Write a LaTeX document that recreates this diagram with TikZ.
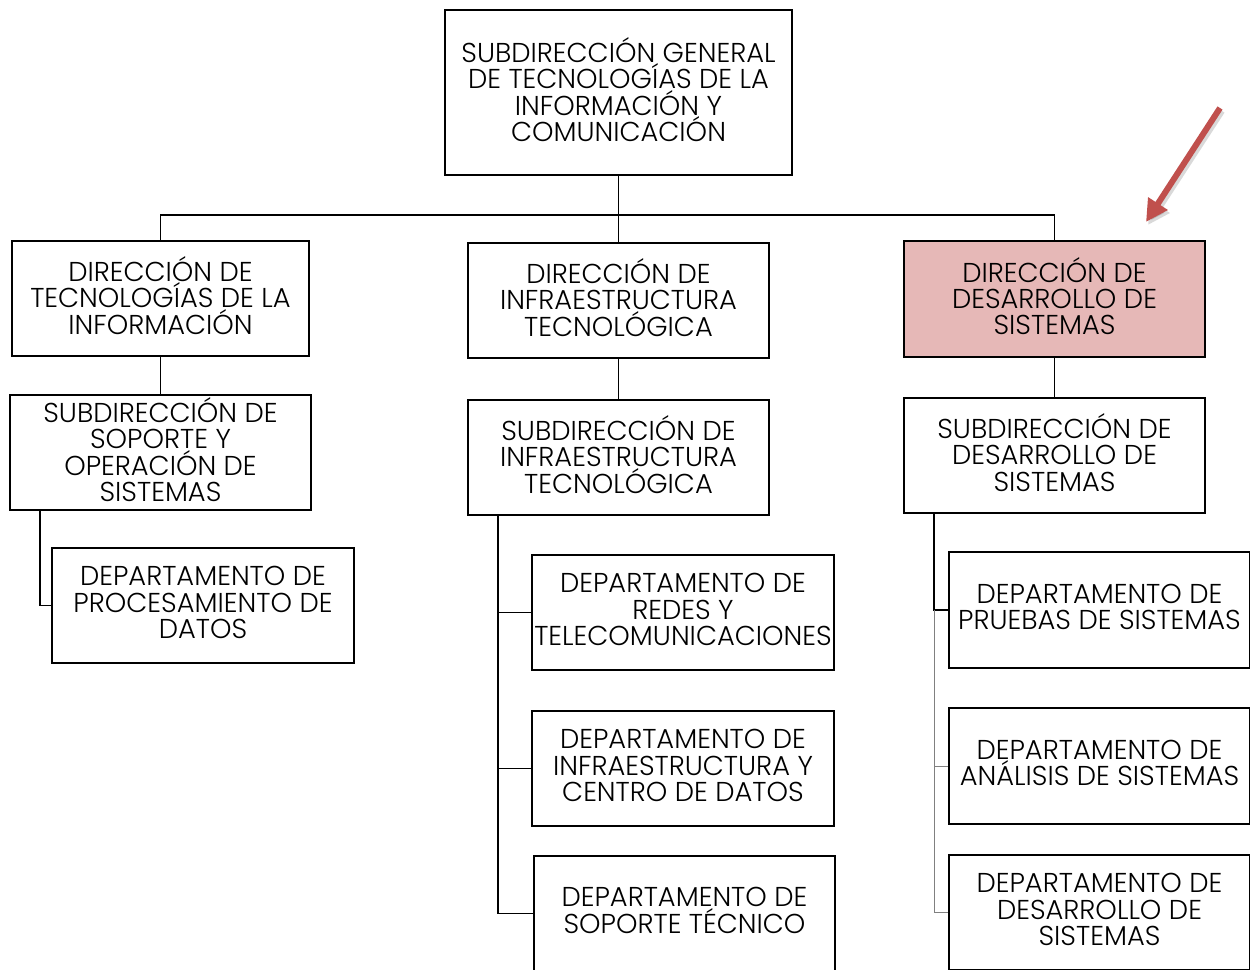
\documentclass[tikz,border=0pt]{standalone}
\usepackage{fontspec}
\setmainfont{Poppins}[UprightFont=* Light]
\usetikzlibrary{arrows.meta}
\definecolor{pinkfill}{HTML}{E6B8B7}
\definecolor{arrowred}{HTML}{C0504D}
\tikzset{
  box/.style={draw, line width=1.6pt, inner sep=0pt,
    minimum width=301pt, minimum height=115pt},
  lbl/.style={inner sep=0pt, align=center, yshift=3pt,
    font=\fontsize{27.3}{26.3}\selectfont},
  txt/.style={label={[lbl]center:#1}},
  conn/.style={line width=1.8pt},
  thin/.style={line width=1pt, gray}
}
\begin{document}
\begin{tikzpicture}[x=1pt,y=-1pt]
\useasboundingbox (0,0) rectangle (1250,969);
\clip (0,0) rectangle (1250,969);
\fill[white] (0,0) rectangle (1250,969);
% nodes
\node[box, minimum width=347pt, minimum height=165pt,
  txt={SUBDIRECCIÓN GENERAL\\DE TECNOLOGÍAS DE LA\\INFORMACIÓN Y\\COMUNICACIÓN}] (top) at (618.5,92.5) {};
\node[box, minimum width=297pt, txt={DIRECCIÓN DE\\TECNOLOGÍAS DE LA\\INFORMACIÓN}] (d1) at (160.5,298.5) {};
\node[box, txt={DIRECCIÓN DE\\INFRAESTRUCTURA\\TECNOLÓGICA}] (d2) at (618.5,300.5) {};
\node[box, fill=pinkfill, minimum height=116pt, txt={DIRECCIÓN DE\\DESARROLLO DE\\SISTEMAS}] (d3) at (1054.5,299) {};
\node[box, txt={SUBDIRECCIÓN DE\\SOPORTE Y\\OPERACIÓN DE\\SISTEMAS}] (s1) at (160.5,452.5) {};
\node[box, txt={SUBDIRECCIÓN DE\\INFRAESTRUCTURA\\TECNOLÓGICA}] (s2) at (618.5,457.5) {};
\node[box, txt={SUBDIRECCIÓN DE\\DESARROLLO DE\\SISTEMAS}] (s3) at (1054.5,455.5) {};
\node[box, minimum width=302pt, txt={DEPARTAMENTO DE\\PROCESAMIENTO DE\\DATOS}] (p1) at (203,605.5) {};
\node[box, minimum width=302pt, txt={DEPARTAMENTO DE\\REDES Y\\TELECOMUNICACIONES}] (m1) at (683,612.5) {};
\node[box, minimum width=302pt, txt={DEPARTAMENTO DE\\INFRAESTRUCTURA Y\\CENTRO DE DATOS}] (m2) at (683,768.5) {};
\node[box, txt={DEPARTAMENTO DE\\SOPORTE TÉCNICO}] (m3) at (684.5,913.5) {};
\node[box, minimum height=116pt, txt={DEPARTAMENTO DE\\PRUEBAS DE SISTEMAS}] (r1) at (1099.5,610) {};
\node[box, minimum height=116pt, txt={DEPARTAMENTO DE\\ANÁLISIS DE SISTEMAS}] (r2) at (1099.5,766) {};
\node[box, txt={DEPARTAMENTO DE\\DESARROLLO DE\\SISTEMAS}] (r3) at (1099.5,912.5) {};
% connectors
\draw[conn] (top.south) -- (d2.north);
\draw[conn] (d1.north) -- ++(0,-25) -| (d3.north);
\draw[conn] (d1.south) -- (s1.north);
\draw[conn] (d2.south) -- (s2.north);
\draw[conn] (d3.south) -- (s3.north);
\coordinate (lx) at (40,0);
\draw[conn] (s1.south -| lx) |- (p1.west);
\coordinate (mx) at (498,0);
\draw[conn] (s2.south -| mx) |- (m3.west);
\draw[conn] (m1.west -| mx) -- (m1.west);
\draw[conn] (m2.west -| mx) -- (m2.west);
\coordinate (rx) at (934,0);
\draw[conn] (s3.south -| rx) |- (r1.west);
\draw[thin] (r1.west -| rx) |- (r3.west);
\draw[thin] (r2.west -| rx) -- (r2.west);
% arrow
\coordinate (atail) at (1220,108);
\coordinate (ahead) at (1146,222);
\draw[line width=6pt, black, opacity=0.15, -{Triangle[length=22pt,width=22pt]}]
  ([shift={(2,3)}]atail) -- ([shift={(2,3)}]ahead);
\draw[line width=6pt, arrowred, -{Triangle[length=22pt,width=22pt]}] (atail) -- (ahead);
\end{tikzpicture}
\end{document}
